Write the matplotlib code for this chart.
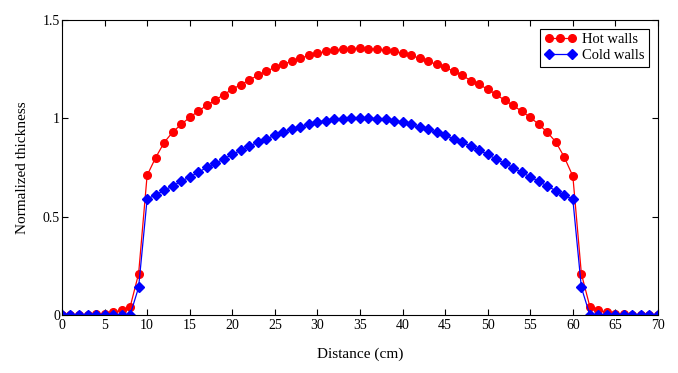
import matplotlib
matplotlib.use("Agg")
import matplotlib.pyplot as plt
from matplotlib.legend_handler import HandlerLine2D

plt.rcParams['font.family'] = ['Liberation Serif', 'DejaVu Serif']

# distance along the wall (cm)
distance = list(range(0, 71))

# normalized thickness
hot_walls = [
    0.0, 0.0, 0.0, 0.0, 0.003, 0.005, 0.013, 0.025, 0.04, 0.21,
    0.71, 0.80, 0.877, 0.93, 0.969, 1.005, 1.036, 1.066, 1.092, 1.121,
    1.147, 1.172, 1.194, 1.219, 1.239, 1.259, 1.275, 1.290, 1.305, 1.320,
    1.330, 1.341, 1.346, 1.351, 1.355, 1.356, 1.355, 1.351, 1.346, 1.340,
    1.330, 1.320, 1.305, 1.290, 1.274, 1.259, 1.239, 1.219, 1.192, 1.173,
    1.147, 1.122, 1.091, 1.066, 1.035, 1.005, 0.969, 0.929, 0.880, 0.802,
    0.706, 0.21, 0.042, 0.025, 0.013, 0.005, 0.003, 0.0, 0.0, 0.0, 0.0,
]
cold_walls = [
    0.0, 0.0, 0.0, 0.0, 0.0, 0.0, 0.0, 0.0, 0.0, 0.14,
    0.59, 0.61, 0.634, 0.656, 0.680, 0.702, 0.725, 0.750, 0.771, 0.793,
    0.817, 0.837, 0.859, 0.878, 0.895, 0.914, 0.929, 0.944, 0.954, 0.969,
    0.981, 0.988, 0.996, 0.999, 1.0, 1.0, 1.0, 0.999, 0.995, 0.987,
    0.981, 0.969, 0.954, 0.944, 0.929, 0.914, 0.895, 0.879, 0.858, 0.837,
    0.817, 0.792, 0.771, 0.749, 0.725, 0.702, 0.680, 0.655, 0.632, 0.609,
    0.588, 0.14, 0.0, 0.0, 0.0, 0.0, 0.0, 0.0, 0.0, 0.0, 0.0,
]

fig = plt.figure(figsize=(6.78, 3.73), dpi=100)
ax = fig.add_axes([0.0914, 0.1555, 0.8791, 0.7909])

hot_line, = ax.plot(distance, hot_walls, color='red', lw=0.9, marker='o',
                    ms=5.5, mec='red', mfc='red', label='Hot walls')
cold_line, = ax.plot(distance, cold_walls, color='blue', lw=0.9, marker='D',
                     ms=4.9, mec='blue', mfc='blue', label='Cold walls')

ax.set_xlim(0, 70)
ax.set_ylim(0, 1.5)
ax.set_xticks(range(0, 71, 5))
ax.set_yticks([0, 0.5, 1, 1.5])
ax.set_yticklabels(['0', '0.5', '1', '1.5'])
ax.tick_params(direction='in', top=True, right=True, length=4, width=0.8,
               labelsize=10)
ax.tick_params(axis='y', pad=1.5)
ax.tick_params(axis='x', pad=3)
for s in ax.spines.values():
    s.set_linewidth(0.8)

ax.set_xlabel('Distance (cm)', fontsize=11, labelpad=11)
ax.set_ylabel('Normalized thickness', fontsize=11, labelpad=10)

leg = ax.legend(handles=[hot_line, cold_line], loc='upper right',
                fontsize=10.5, fancybox=False, framealpha=1,
                edgecolor='black', borderpad=0.3, handlelength=2.2,
                handletextpad=0.4, labelspacing=0.2, borderaxespad=0.6,
                handler_map={hot_line: HandlerLine2D(numpoints=3),
                             cold_line: HandlerLine2D(numpoints=2)})
leg.get_frame().set_linewidth(0.8)

fig.savefig('out.png', dpi=100)
